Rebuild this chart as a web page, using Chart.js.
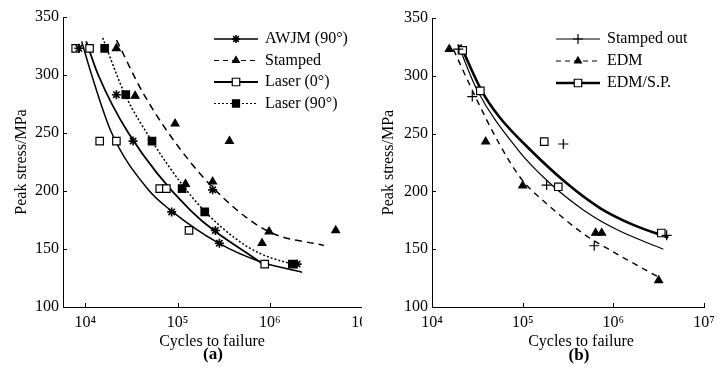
<!DOCTYPE html>
<html>
<head>
<meta charset="utf-8">
<script src="https://cdn.jsdelivr.net/npm/chart.js@4.4.1/dist/chart.umd.min.js"></script>
<style>
  body { margin: 0; background: #fff; width: 724px; height: 385px; position: relative; overflow: hidden; font-family: "Liberation Serif", serif; }
  .panel { position: absolute; top: 0; height: 385px; overflow: hidden; }
  .panel canvas { display: block; }
  #wrapA { left: 0; width: 362px; }
  #wrapB { left: 362px; width: 362px; }
  .cap { position: absolute; width: 200px; text-align: center; font-size: 16px; line-height: 18px; color: #000; }
  .tag { position: absolute; width: 100px; text-align: center; font-size: 17px; line-height: 18px; font-weight: bold; color: #000; }
</style>
</head>
<body>
<div class="panel" id="wrapA"><canvas id="chartA" width="380" height="385"></canvas></div>
<div class="panel" id="wrapB"><canvas id="chartB" width="362" height="385"></canvas></div>
<div class="cap" style="left:112px;top:332px">Cycles to failure</div>
<div class="tag" style="left:163px;top:345px">(a)</div>
<div class="cap" style="left:481px;top:332px">Cycles to failure</div>
<div class="tag" style="left:529px;top:346px">(b)</div>
<script>
// ---- panel (a) test points ----
const awjmN = [8500, 21700, 32900, 86300, 240000, 257000, 284000, 1980000];
const awjmS = [323, 283, 243, 182, 201, 166, 155, 137];
const stampedN = [21700, 34600, 94000, 122000, 240000, 365000, 824000, 982000, 5190000];
const stampedS = [323, 282, 258, 206, 208, 243, 155, 165, 166];
const laser0N = [7850, 11100, 14300, 21700, 64000, 75600, 133000, 881000];
const laser0S = [323, 323, 243, 243, 202, 202, 166, 137];
const laser90N = [16200, 27400, 52800, 112000, 197000, 1760000];
const laser90S = [323, 283, 243, 202, 182, 137];

// ---- panel (a) fitted curves ----
const awjmFitN = [9120, 11700, 19300, 48200, 83600, 279000, 791000, 2240000];
const awjmFitS = [329, 300, 250, 201, 183.5, 155, 139, 130];
const laser0FitN = [10200, 13800, 29300, 137000, 873000];
const laser0FitS = [329, 300, 250, 183.5, 136];
const laser90FitN = [15400, 27000, 52800, 116000, 200000, 442000, 791000, 1900000];
const laser90FitS = [332, 283, 243, 204, 182, 158, 146, 136];
const stampedFitN = [21800, 42600, 107000, 304000, 973000, 3850000];
const stampedFitS = [330, 284, 236, 195, 165, 153];

// ---- panel (b) test points ----
const stampedOutN = [19500, 27800, 184000, 281000, 616000, 3870000];
const stampedOutS = [323, 282, 205.5, 241, 153, 162];
const edmN = [15500, 39100, 100000, 638000, 744000, 3160000];
const edmS = [323, 243, 205, 164, 164, 123];
const edmSpN = [21800, 34100, 173000, 247000, 3380000];
const edmSpS = [322, 287, 243, 204, 164];

// ---- panel (b) fitted curves ----
const stampedOutFitN = [19400, 31300, 88700, 200000, 467000, 1090000, 3560000];
const stampedOutFitS = [327, 288, 236, 207, 184, 167, 150];
const edmFitN = [17300, 30000, 54500, 98400, 184000, 467000, 1090000, 3130000];
const edmFitS = [322.6, 282, 242, 210, 189.4, 163.4, 146, 126];
const edmSpFitN = [20500, 35600, 54500, 121000, 306000, 713000, 1660000, 4040000];
const edmSpFitS = [327, 286.5, 265, 236, 207, 185.6, 171, 160];

const decades = [1e4, 1e5, 1e6, 1e7];
const stressTicks = [100, 150, 200, 250, 300, 350];
const sup = { 4: '\u2074', 5: '\u2075', 6: '\u2076', 7: '\u2077' };

Chart.defaults.font.family = '"Liberation Serif", "Times New Roman", serif';
Chart.defaults.font.size = 16;
Chart.defaults.color = '#000';

const pts = (n, s) => n.map((v, i) => ({ x: v, y: s[i] }));

function marks(n, s, style, fill, r, bw) {
  return {
    data: pts(n, s), showLine: false, order: 1,
    pointStyle: style, pointRadius: r, pointBorderWidth: bw || 1.2,
    pointBackgroundColor: fill, pointBorderColor: '#000'
  };
}
function fit(n, s, width, dash) {
  return {
    data: pts(n, s), showLine: true, order: 2, pointRadius: 0,
    borderColor: '#000', borderWidth: width, borderDash: dash,
    cubicInterpolationMode: 'monotone'
  };
}

// inward tick marks on both axes
const inTicks = {
  id: 'inTicks',
  afterDraw(chart) {
    const { ctx, scales: { x, y } } = chart;
    ctx.save();
    ctx.strokeStyle = '#000';
    ctx.lineWidth = 1;
    ctx.beginPath();
    x.ticks.forEach(t => {
      const px = Math.round(x.getPixelForValue(t.value)) + 0.5;
      ctx.moveTo(px, x.top); ctx.lineTo(px, x.top - 4);
    });
    y.ticks.forEach(t => {
      const py = Math.round(y.getPixelForValue(t.value)) + 0.5;
      ctx.moveTo(y.right, py); ctx.lineTo(y.right + 4, py);
    });
    ctx.stroke();
    ctx.restore();
  }
};

// legend with a line sample and the marker in its middle
const sampleLegend = {
  id: 'sampleLegend',
  afterDraw(chart, args, o) {
    const ctx = chart.ctx;
    ctx.save();
    o.items.forEach((it, i) => {
      const y = o.y + i * o.gap;
      ctx.strokeStyle = '#000';
      ctx.lineWidth = it.width;
      ctx.setLineDash(it.dash);
      ctx.beginPath();
      ctx.moveTo(o.x, y); ctx.lineTo(o.x + o.len, y);
      ctx.stroke();
      ctx.setLineDash([]);
      ctx.lineWidth = it.bw || 1.2;
      ctx.fillStyle = it.fill;
      Chart.helpers.drawPoint(ctx, { pointStyle: it.style, radius: it.r, borderWidth: it.bw || 1.2, rotation: 0 }, o.x + o.len / 2, y);
      ctx.fillStyle = '#000';
      ctx.font = '16px "Liberation Serif", serif';
      ctx.textBaseline = 'middle';
      ctx.textAlign = 'left';
      ctx.fillText(it.label, o.x + o.len + 7, y);
    });
    ctx.restore();
  }
};

function makeChart(id, cfg) {
  return new Chart(document.getElementById(id), {
    type: 'scatter',
    data: { datasets: cfg.datasets },
    plugins: [inTicks, sampleLegend],
    options: {
      responsive: false,
      animation: false,
      events: [],
      layout: { padding: { left: 0, top: cfg.top, right: cfg.right, bottom: 0 } },
      plugins: { legend: { display: false }, tooltip: { enabled: false }, sampleLegend: cfg.legend },
      scales: {
        x: {
          type: 'logarithmic', min: cfg.xmin, max: 1e7,
          afterBuildTicks: s => { s.ticks = decades.filter(v => v >= cfg.xmin).map(v => ({ value: v })); },
          afterFit: s => { s.height = 78; },
          grid: { display: false, drawTicks: false },
          border: { display: true, color: '#000', width: 1 },
          ticks: { padding: 6, maxRotation: 0, autoSkip: false, callback: v => '10' + sup[Math.round(Math.log10(v))] }
        },
        y: {
          min: 100, max: 350,
          afterBuildTicks: s => { s.ticks = stressTicks.map(v => ({ value: v })); },
          afterFit: s => { s.width = cfg.yw; },
          grid: { display: false, drawTicks: false },
          border: { display: true, color: '#000', width: 1 },
          ticks: { padding: 4 },
          title: { display: true, text: 'Peak stress/MPa', padding: { top: cfg.titlePad }, font: { size: 16 } }
        }
      }
    }
  });
}

makeChart('chartA', {
  xmin: 5720, top: 17, right: 18, yw: 63, titlePad: 12,
  datasets: [
    marks(awjmN, awjmS, 'star', '#000', 4.5, 1.6),
    marks(stampedN, stampedS, 'triangle', '#000', 4.5),
    marks(laser0N, laser0S, 'rect', '#fff', 5.3),
    marks(laser90N, laser90S, 'rect', '#000', 5.3),
    fit(awjmFitN, awjmFitS, 1.5, []),
    fit(stampedFitN, stampedFitS, 1.5, [7, 5]),
    fit(laser0FitN, laser0FitS, 1.8, []),
    fit(laser90FitN, laser90FitS, 1.5, [2, 2])
  ],
  legend: {
    x: 214, y: 39, gap: 21.5, len: 44,
    items: [
      { label: 'AWJM (90°)', width: 1.5, dash: [], style: 'star', fill: '#000', r: 4, bw: 1.6 },
      { label: 'Stamped', width: 1.2, dash: [5, 4], style: 'triangle', fill: '#000', r: 4 },
      { label: 'Laser (0°)', width: 2, dash: [], style: 'rect', fill: '#fff', r: 5.3 },
      { label: 'Laser (90°)', width: 1.2, dash: [2, 2], style: 'rect', fill: '#000', r: 5 }
    ]
  }
});

makeChart('chartB', {
  xmin: 1e4, top: 18, right: 20, yw: 70, titlePad: 17,
  datasets: [
    marks(stampedOutN, stampedOutS, 'cross', '#000', 5),
    marks(edmN, edmS, 'triangle', '#000', 4.5),
    marks(edmSpN, edmSpS, 'rect', '#fff', 5.3),
    fit(stampedOutFitN, stampedOutFitS, 1.2, []),
    fit(edmFitN, edmFitS, 1.4, [6, 5]),
    fit(edmSpFitN, edmSpFitS, 2.6, [])
  ],
  legend: {
    x: 194, y: 39, gap: 22, len: 44,
    items: [
      { label: 'Stamped out', width: 1.2, dash: [], style: 'cross', fill: '#000', r: 5 },
      { label: 'EDM', width: 1.2, dash: [5, 4], style: 'triangle', fill: '#000', r: 4 },
      { label: 'EDM/S.P.', width: 2.6, dash: [], style: 'rect', fill: '#fff', r: 5.3 }
    ]
  }
});
</script>
</body>
</html>
